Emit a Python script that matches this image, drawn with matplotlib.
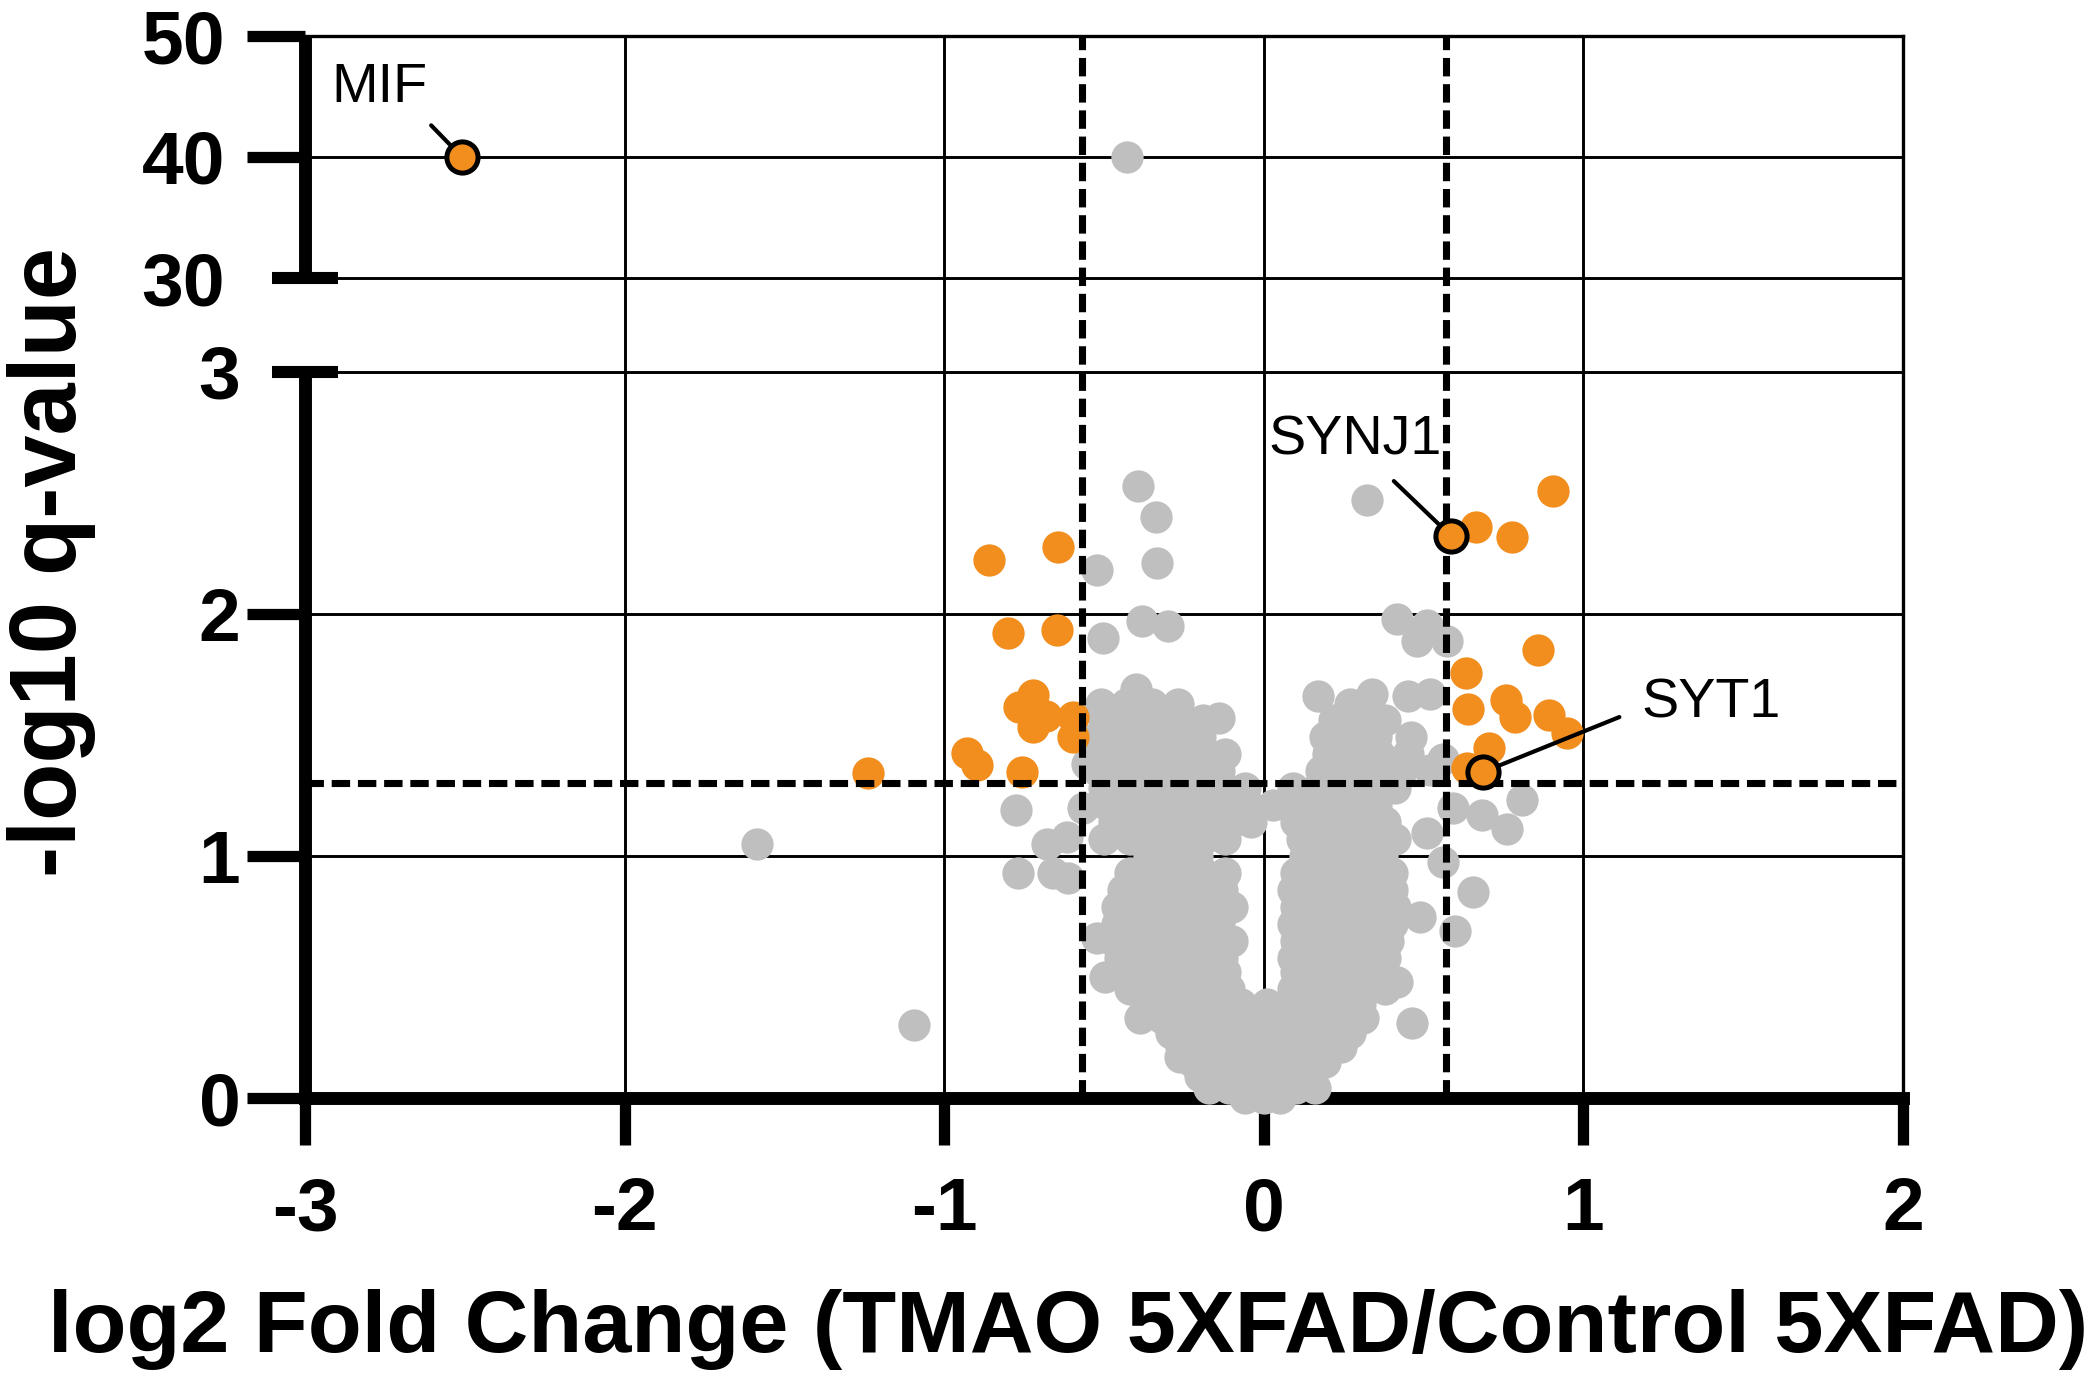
import numpy as np
import matplotlib
matplotlib.use("Agg")
import matplotlib.pyplot as plt

plt.rcParams['font.family'] = ['Liberation Sans', 'DejaVu Sans']

# ---------------- data ----------------
x_ticks = [-3, -2, -1, 0, 1, 2]
x_tick_labels = ['-3', '-2', '-1', '0', '1', '2']
y_ticks_low = [0, 1, 2, 3]
y_ticks_high = [30, 40, 50]
fc_threshold = 0.57
q_threshold = 1.301

# not significant proteins (log2FC, -log10 q)
gray_points = [
    (-0.428, 40.0),
    (-1.586, 1.05), (-1.095, 0.30), (-0.775, 1.19), (-0.678, 1.05), (-0.769, 0.93),
    (-0.616, 1.08), (-0.660, 0.93), (-0.612, 0.91), (-0.566, 1.20), (-0.553, 1.38),
    (-0.394, 2.53), (-0.337, 2.40), (-0.334, 2.21), (-0.522, 2.18), (-0.503, 1.90),
    (-0.381, 1.97), (-0.300, 1.95),
    (0.323, 2.47), (0.417, 1.98), (0.511, 1.955), (0.573, 1.89), (0.479, 1.89),
    (0.655, 0.85), (0.598, 0.69), (0.561, 0.975), (0.808, 1.23), (0.683, 1.17),
    (0.761, 1.11), (0.592, 1.20), (0.510, 1.095), (0.489, 0.75), (0.464, 0.31),
    (0.417, 0.48), (0.323, 0.50), (-0.497, 0.50), (-0.522, 0.66), (-0.387, 0.33),
    (-0.262, 0.17), (0.560, 1.40), (0.520, 1.355),
    # dense cloud, bottom to top
    (0.00, 0.00), (-0.06, 0.00), (0.05, 0.00),
    (-0.17, 0.04), (-0.11, 0.04), (0.10, 0.04), (0.16, 0.04),
    (-0.20, 0.09), (-0.13, 0.09), (-0.05, 0.09), (0.02, 0.09), (0.08, 0.09), (0.15, 0.09),
    (-0.22, 0.15), (-0.15, 0.15), (-0.08, 0.15), (0.00, 0.15), (0.07, 0.15), (0.14, 0.15), (0.19, 0.15),
    (-0.26, 0.21), (-0.19, 0.21), (-0.12, 0.21), (-0.05, 0.21), (0.03, 0.21), (0.10, 0.21),
    (0.17, 0.21), (0.24, 0.21),
    (-0.29, 0.27), (-0.22, 0.27), (-0.15, 0.27), (-0.08, 0.27), (0.00, 0.27), (0.07, 0.27),
    (0.14, 0.27), (0.21, 0.27), (0.27, 0.27),
    (-0.32, 0.33), (-0.24, 0.33), (-0.17, 0.33), (-0.10, 0.33), (-0.03, 0.33), (0.04, 0.33),
    (0.11, 0.33), (0.18, 0.33), (0.25, 0.33), (0.31, 0.33),
    (-0.37, 0.39), (-0.29, 0.39), (-0.21, 0.39), (-0.14, 0.39), (-0.07, 0.39), (0.01, 0.39),
    (0.09, 0.39), (0.16, 0.39), (0.23, 0.39), (0.30, 0.39),
    (-0.42, 0.45), (-0.34, 0.45), (-0.26, 0.45), (-0.18, 0.45), (-0.11, 0.45), (0.09, 0.45),
    (0.16, 0.45), (0.23, 0.45), (0.31, 0.45), (0.38, 0.45),
    (-0.44, 0.52), (-0.36, 0.52), (-0.28, 0.52), (-0.20, 0.52), (-0.12, 0.52), (0.10, 0.52),
    (0.17, 0.52), (0.25, 0.52), (0.32, 0.52),
    (-0.45, 0.58), (-0.37, 0.58), (-0.29, 0.58), (-0.21, 0.58), (-0.13, 0.58), (0.09, 0.58),
    (0.16, 0.58), (0.24, 0.58), (0.31, 0.58), (0.38, 0.58),
    (-0.47, 0.65), (-0.39, 0.65), (-0.31, 0.65), (-0.23, 0.65), (-0.15, 0.65), (-0.10, 0.65),
    (0.10, 0.65), (0.18, 0.65), (0.26, 0.65), (0.33, 0.65), (0.39, 0.65),
    (-0.46, 0.72), (-0.38, 0.72), (-0.30, 0.72), (-0.22, 0.72), (-0.14, 0.72), (0.09, 0.72),
    (0.17, 0.72), (0.25, 0.72), (0.32, 0.72), (0.40, 0.72),
    (-0.46, 0.79), (-0.38, 0.79), (-0.30, 0.79), (-0.22, 0.79), (-0.14, 0.79), (-0.10, 0.79),
    (0.10, 0.79), (0.18, 0.79), (0.26, 0.79), (0.34, 0.79), (0.41, 0.79),
    (-0.44, 0.86), (-0.36, 0.86), (-0.28, 0.86), (-0.20, 0.86), (-0.13, 0.86), (0.09, 0.86),
    (0.17, 0.86), (0.25, 0.86), (0.32, 0.86), (0.40, 0.86),
    (-0.42, 0.93), (-0.34, 0.93), (-0.26, 0.93), (-0.19, 0.93), (-0.12, 0.93), (0.10, 0.93),
    (0.18, 0.93), (0.26, 0.93), (0.33, 0.93), (0.40, 0.93),
    (-0.36, 1.00), (-0.28, 1.00), (-0.21, 1.00), (0.13, 1.00), (0.21, 1.00), (0.29, 1.00),
    (0.37, 1.00),
    (-0.50, 1.07), (-0.42, 1.07), (-0.34, 1.07), (-0.26, 1.07), (-0.19, 1.07), (-0.12, 1.07),
    (0.12, 1.07), (0.20, 1.07), (0.27, 1.07), (0.34, 1.07), (0.41, 1.07),
    (-0.47, 1.14), (-0.39, 1.14), (-0.31, 1.14), (-0.24, 1.14), (-0.17, 1.14), (-0.10, 1.14),
    (-0.04, 1.14), (0.10, 1.14), (0.17, 1.14), (0.24, 1.14), (0.31, 1.14), (0.38, 1.14),
    (-0.49, 1.21), (-0.41, 1.21), (-0.33, 1.21), (-0.26, 1.21), (-0.19, 1.21), (-0.12, 1.21),
    (-0.05, 1.21), (0.03, 1.21), (0.11, 1.21), (0.19, 1.21), (0.27, 1.21), (0.35, 1.21),
    (-0.50, 1.28), (-0.43, 1.28), (-0.35, 1.28), (-0.27, 1.28), (-0.20, 1.28), (-0.13, 1.28),
    (-0.06, 1.28), (0.09, 1.28), (0.17, 1.28), (0.25, 1.28), (0.33, 1.28), (0.41, 1.28),
    (-0.52, 1.35), (-0.44, 1.35), (-0.36, 1.35), (-0.28, 1.35), (-0.21, 1.35), (-0.14, 1.35),
    (0.18, 1.35), (0.26, 1.35), (0.34, 1.35), (0.43, 1.35),
    (-0.50, 1.42), (-0.42, 1.42), (-0.34, 1.42), (-0.26, 1.42), (-0.18, 1.42), (-0.12, 1.42),
    (0.20, 1.42), (0.28, 1.42), (0.36, 1.42), (0.45, 1.42),
    (-0.52, 1.49), (-0.44, 1.49), (-0.36, 1.49), (-0.28, 1.49), (-0.20, 1.49), (0.19, 1.49),
    (0.27, 1.49), (0.35, 1.49), (0.46, 1.49),
    (-0.50, 1.56), (-0.42, 1.56), (-0.34, 1.56), (-0.27, 1.56), (-0.19, 1.56), (-0.14, 1.57),
    (0.22, 1.56), (0.30, 1.56), (0.38, 1.56),
    (-0.51, 1.63), (-0.43, 1.63), (-0.35, 1.63), (-0.27, 1.63), (0.17, 1.66), (0.27, 1.63),
    (0.34, 1.67), (0.45, 1.66),
    (-0.40, 1.69), (0.52, 1.67),
]

# significant proteins (orange)
orange_points = [
    (-1.239, 1.343), (-0.929, 1.426), (-0.897, 1.376), (-0.757, 1.347),
    (-0.860, 2.223), (-0.644, 2.277), (-0.800, 1.921), (-0.647, 1.934),
    (-0.722, 1.665), (-0.766, 1.616), (-0.722, 1.533), (-0.680, 1.580),
    (-0.597, 1.574), (-0.597, 1.492),
    (0.664, 2.360), (0.776, 2.318), (0.905, 2.508), (0.858, 1.851),
    (0.632, 1.756), (0.639, 1.607), (0.757, 1.645), (0.786, 1.574),
    (0.892, 1.583), (0.948, 1.508), (0.705, 1.446), (0.636, 1.364),
]

# labelled proteins: name, x, y, label position
highlight_names = ['MIF', 'SYNJ1', 'SYT1']
highlight_x = [-2.509, 0.586, 0.686]
highlight_y = [40.0, 2.322, 1.347]
label_x = [-2.766, 0.285, 1.399]
label_y = [45.7, 2.715, 1.632]

# ---------------- broken y scale ----------------
GAP = 94 / 242.0      # height of the break, in units of the lower panel
TOP = 1.0             # 30..50 occupies one lower-panel unit


def fwd(y):
    y = np.asarray(y, dtype=float)
    return np.where(y <= 3, y,
                    np.where(y < 30, 3 + (y - 3) * GAP / 27.0,
                             3 + GAP + (y - 30) * TOP / 20.0))


def inv(t):
    t = np.asarray(t, dtype=float)
    return np.where(t <= 3, t,
                    np.where(t < 3 + GAP, 3 + (t - 3) * 27.0 / GAP,
                             30 + (t - 3 - GAP) * 20.0 / TOP))


W, H, DPI = 2100, 1381, 300
fig = plt.figure(figsize=(W / DPI, H / DPI), dpi=DPI)
ax = fig.add_axes([305 / W, 1 - 1098 / H, 1598 / W, 1062 / H])
ax.set_yscale('function', functions=(fwd, inv))
ax.set_xlim(-3, 2)
ax.set_ylim(0, 50)

GRAY = '#BFBFBF'
ORANGE = '#F28E1E'

gx, gy = zip(*gray_points)
ox, oy = zip(*orange_points)
ax.scatter(gx, gy, s=60, color=GRAY, linewidths=0, zorder=3, clip_on=False)
ax.scatter(ox, oy, s=60, color=ORANGE, linewidths=0, zorder=3.2, clip_on=False)
ax.scatter(highlight_x, highlight_y, s=56, color=ORANGE, edgecolors='k',
           linewidths=1.2, zorder=3.6, clip_on=False)

# thresholds
dash = (0, (2.6, 1.1))
for xv in (-fc_threshold, fc_threshold):
    ax.axvline(xv, color='k', lw=1.7, ls=dash, zorder=3.5)
ax.axhline(q_threshold, color='k', lw=1.7, ls=dash, zorder=3.5)

# grid
ax.grid(True, color='k', lw=0.7)
ax.set_axisbelow(True)

# spines
ax.spines['left'].set_visible(False)
ax.spines['bottom'].set_linewidth(3.1)
for s in ('top', 'right'):
    ax.spines[s].set_linewidth(0.8)
ytr = ax.get_yaxis_transform()
ax.plot([0, 0], [0, 3], transform=ytr, color='k', lw=3.1, clip_on=False,
        solid_capstyle='projecting', zorder=2.6)
ax.plot([0, 0], [30, 50], transform=ytr, color='k', lw=3.1, clip_on=False,
        solid_capstyle='butt', zorder=2.6)
cap = 33 / 1598
for yv in (3, 30):
    ax.plot([-cap, cap], [yv, yv], transform=ytr, color='k', lw=2.9,
            clip_on=False, solid_capstyle='butt', zorder=2.7)

# ticks
ax.set_xticks(x_ticks)
ax.set_xticklabels(x_tick_labels)
ax.tick_params(axis='x', direction='out', length=11.3, width=2.7, pad=7.5,
               labelsize=18)
all_yticks = y_ticks_low + y_ticks_high
ax.set_yticks(all_yticks)
ax.set_yticklabels([str(v) for v in y_ticks_low] + [''] * len(y_ticks_high))
ax.yaxis.set_minor_locator(matplotlib.ticker.NullLocator())
ax.tick_params(axis='y', direction='out', length=14, width=2.7, pad=1.5,
               labelsize=18)
for lab in ax.get_xticklabels() + ax.get_yticklabels():
    lab.set_fontweight('bold')
yt = ax.yaxis.get_major_ticks()
for i, v in enumerate(all_yticks):
    if v in (3, 30):
        yt[i].tick1line.set_visible(False)
xt = ax.xaxis.get_major_ticks()
xt[0].gridline.set_visible(False)   # no grid line where the broken y axis sits
for v in y_ticks_high:
    ax.text(-80 / 1598, v, str(v), transform=ytr, ha='right', va='center_baseline',
            fontsize=18, fontweight='bold')

# annotations
rels = [(0.92, 0.0), (0.64, 0.0), (0.0, 0.4)]
shrA = [1.0, 2.0, 3.5]
for name, x, y, tx, ty, rp, sa in zip(highlight_names, highlight_x, highlight_y,
                                      label_x, label_y, rels, shrA):
    ax.annotate(name, xy=(x, y), xytext=(tx, ty), ha='center', va='center',
                fontsize=13.4, zorder=6,
                arrowprops=dict(arrowstyle='-', color='k', lw=1.0, relpos=rp,
                                shrinkA=sa, shrinkB=4.3))

# axis titles
fig.text(1068 / W, 1 - 1330 / H, 'log2 Fold Change (TMAO 5XFAD/Control 5XFAD)',
         ha='center', va='center', fontsize=21.2, fontweight='bold')
fig.text(52 / W, 1 - 562 / H, '-log10 q-value', rotation=90, ha='center',
         va='center', fontsize=22.5, fontweight='bold')

fig.savefig('out.png', dpi=DPI)
